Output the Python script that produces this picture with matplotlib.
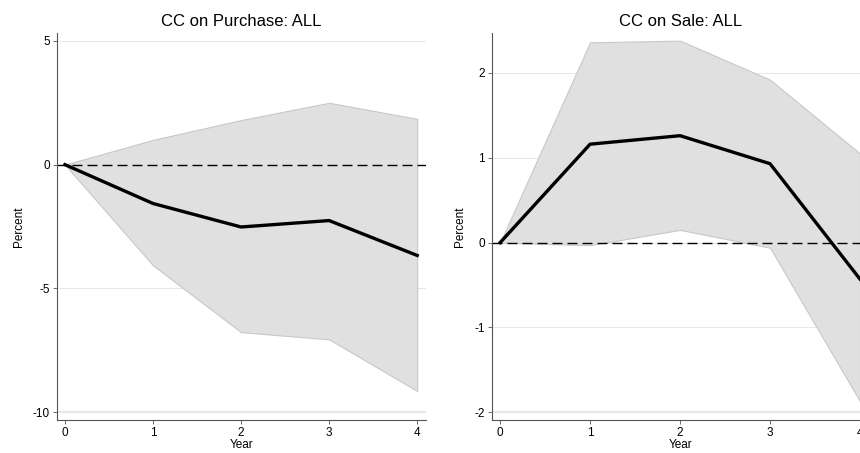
#!/usr/bin/env python3

from matplotlib import pyplot as plt
import matplotlib

years = [0, 1, 2, 3, 4]

purchase_mean = [0.0, -1.57, -2.52, -2.26, -3.67]
purchase_upper = [0.0, 1.0, 1.8, 2.5, 1.85]
purchase_lower = [0.0, -4.07, -6.77, -7.06, -9.15]

sale_mean = [0.0, 1.16, 1.26, 0.93, -0.43]
sale_upper = [0.0, 2.36, 2.38, 1.92, 1.05]
sale_lower = [0.0, -0.03, 0.15, -0.06, -1.87]

purchase_ticks = [-10, -5, 0, 5]
sale_ticks = [-2, -1, 0, 1, 2]

W, H = 860, 453


def setup():
    matplotlib.rcParams.update({
        "font.family": ["Liberation Sans", "DejaVu Sans"],
        "axes.unicode_minus": False,
    })


def draw_panel(ax, title, mean, lower, upper, yticks, ylim):
    ax.fill_between(years, lower, upper, facecolor="#e0e0e0",
                    edgecolor="#c8c8c8", linewidth=0.8, zorder=1)
    ax.axhline(0, color="black", lw=1.0, ls=(0, (7.2, 3.6)), zorder=2)
    ax.plot(years, mean, color="black", lw=2.4, zorder=3)

    # light horizontal grid, bottom one a bit heavier as in the original
    for t in yticks:
        lw = 1.6 if t == min(yticks) else 0.8
        ax.axhline(t, color="#e8e8e8", lw=lw, zorder=0)

    ax.set_xlim(-0.09, 4.1)
    ax.set_ylim(*ylim)
    ax.set_xticks(years)
    ax.set_yticks(yticks)
    ax.tick_params(labelsize=8.5, length=3, width=0.6, color="#555555",
                   pad=2)
    for side in ["top", "right"]:
        ax.spines[side].set_visible(False)
    for side in ["left", "bottom"]:
        ax.spines[side].set_color("#555555")
        ax.spines[side].set_linewidth(0.8)

    ax.set_title(title, fontsize=12, pad=5)
    ax.set_xlabel("Year", fontsize=8.5, labelpad=0)
    ax.set_ylabel("Percent", fontsize=8.5, labelpad=6)


def main():
    setup()
    fig = plt.figure(figsize=(W / 100, H / 100), dpi=100)

    top, bottom = 33, 420
    ax1 = fig.add_axes([57 / W, 1 - bottom / H, 369 / W, (bottom - top) / H])
    ax2 = fig.add_axes([492 / W, 1 - bottom / H, 377 / W, (bottom - top) / H])

    draw_panel(ax1, "CC on Purchase: ALL", purchase_mean, purchase_lower,
               purchase_upper, purchase_ticks, (-10.32, 5.32))
    draw_panel(ax2, "CC on Sale: ALL", sale_mean, sale_lower,
               sale_upper, sale_ticks, (-2.09, 2.47))

    fig.savefig("out.png", dpi=100)


if __name__ == "__main__":
    main()
